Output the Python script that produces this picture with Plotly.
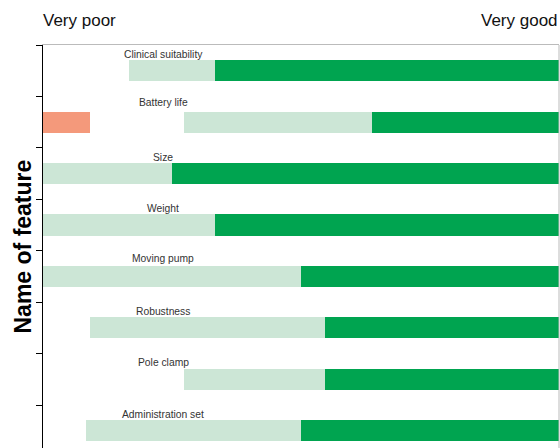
import plotly.graph_objects as go

# Rating shares per feature (percent of respondents)
features = ["Clinical suitability", "Battery life", "Size", "Weight",
            "Moving pump", "Robustness", "Pole clamp", "Administration set"]
very_poor = [0, 9.1, 0, 0, 0, 0, 0, 0]
neutral = [16.7, 18.2, 0, 0, 0, 9.1, 27.3, 8.3]
good = [16.7, 36.4, 25.0, 33.3, 50.0, 45.5, 27.3, 41.7]
very_good = [66.7, 36.4, 75.0, 66.7, 50.0, 45.5, 45.5, 50.0]

series = [
    ("Very poor", very_poor, "#F4997B"),
    ("Neutral", neutral, "rgba(255,255,255,0)"),
    ("Good", good, "#CCE6D6"),
    ("Very good", very_good, "#00A450"),
]

pos = list(range(len(features)))
label_lift = [16.5, 19.5, 16.5, 16.5, 18, 16.5, 17, 16]

fig = go.Figure()
for name, vals, col in series:
    fig.add_trace(go.Bar(
        y=pos, x=vals, orientation="h", name=name,
        marker=dict(color=col, line=dict(width=0)),
        width=0.41, showlegend=False, hoverinfo="x+name",
    ))

# feature names written above each bar
for i, f in enumerate(features):
    fig.add_annotation(
        x=(163 - 43) / 516, xref="paper", y=i, yref="y",
        text=f, showarrow=False, yshift=label_lift[i],
        xanchor="center", yanchor="middle",
        font=dict(family="Liberation Sans, Arial, sans-serif", size=10.3, color="#333333"),
    )

# scale end labels
fig.add_annotation(x=-0.004, xref="paper", y=1, yref="paper", yshift=25,
                   text="Very poor", showarrow=False, xanchor="left", yanchor="middle",
                   font=dict(family="Liberation Sans, Arial, sans-serif", size=17, color="#111111"))
fig.add_annotation(x=(559.5 - 43) / 516, xref="paper", y=1, yref="paper", yshift=25,
                   text="Very good", showarrow=False, xanchor="right", yanchor="middle",
                   font=dict(family="Liberation Sans, Arial, sans-serif", size=17, color="#111111"))

# vertical axis title
fig.add_annotation(x=-21 / 516, xref="paper", y=0.5, yref="paper",
                   text="<b>Name of feature</b>", textangle=-90, showarrow=False,
                   xanchor="center", yanchor="middle",
                   font=dict(family="Liberation Sans, Arial, sans-serif", size=23, color="#000000"))

# right-hand frame edge
fig.add_shape(type="line", xref="paper", yref="paper", x0=1, x1=1, y0=0, y1=1,
              line=dict(color="#BBBBBB", width=1))

fig.update_layout(
    barmode="stack",
    width=560, height=448,
    margin=dict(l=43, r=1, t=45, b=0),
    plot_bgcolor="white", paper_bgcolor="white",
    bargap=0,
    xaxis=dict(range=[0, 100], side="top", showline=True, linecolor="#BBBBBB",
               linewidth=1, showgrid=False, zeroline=False, showticklabels=False,
               ticks="", fixedrange=True),
    yaxis=dict(range=[7.336, -0.5], showline=True, linecolor="#000000", linewidth=1,
               showgrid=False, zeroline=False, showticklabels=False,
               tickmode="array", tickvals=[i - 0.5 for i in range(8)],
               ticks="outside", ticklen=6, tickcolor="#000000", fixedrange=True),
)

fig.write_html("out.html")
